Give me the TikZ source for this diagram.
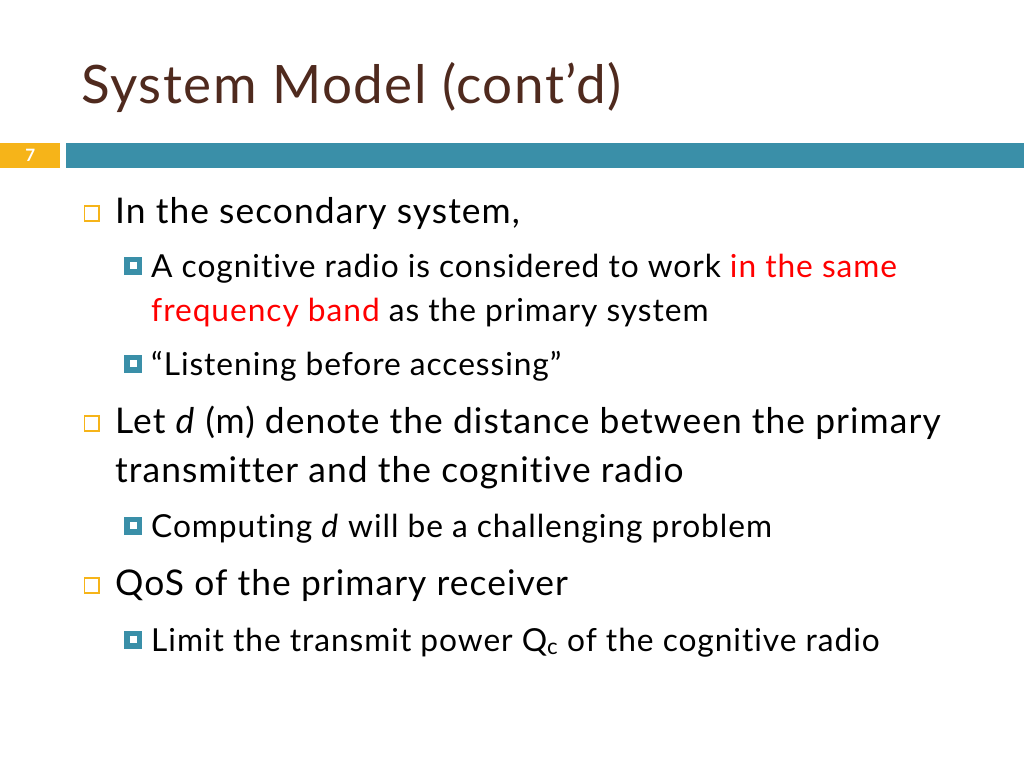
\documentclass[tikz,border=0pt]{standalone}
\usepackage{fontspec}
\setmainfont{Lato}[LetterSpace=3.0, Ligatures=NoCommon]
\usepackage{xcolor}
\usetikzlibrary{positioning}
\definecolor{titlebrown}{HTML}{4F2A1E}
\definecolor{barteal}{HTML}{3A8FA8}
\definecolor{barorange}{HTML}{F6B419}
\definecolor{hired}{HTML}{FF0000}

\begin{document}
\begin{tikzpicture}[x=1pt, y=-1pt]
        \tikzstyle{title} = [anchor=base west, inner sep=0, text=titlebrown, font=\fontsize{53}{60}\selectfont]
        \tikzstyle{lone} = [anchor=base west, inner sep=0, font=\fontsize{35.4}{40}\selectfont]
        \tikzstyle{ltwo} = [anchor=base west, inner sep=0, font=\fontsize{31.7}{36}\selectfont]
        \tikzstyle{obullet} = [rectangle, draw=barorange, line width=1.6pt, minimum size=14.5pt, inner sep=0, anchor=south west]
        \tikzstyle{tbullet} = [rectangle, draw=barteal, fill=white, line width=5.5pt, minimum size=12.5pt, inner sep=0, anchor=south west]
        \useasboundingbox (0,0) rectangle (1024,768);
        \fill[white] (0,0) rectangle (1024,768);

        % title and number bar
        \node [title] (ttl) at (81,103) {System Model (cont’d)};
        \node [rectangle, fill=barorange, minimum width=60pt, minimum height=25pt, inner sep=0, anchor=north west] (numbox) at (0,143) {};
        \node [text=white, font=\fontsize{17}{17}\selectfont\bfseries] (num) at (numbox.center) {7};
        \node [rectangle, fill=barteal, minimum width=958pt, minimum height=25pt, inner sep=0, anchor=north west] (bar) at (66,143) {};

        % first item
        \node [obullet] (b1) at (83.5,221.5) {};
        \node [lone] (t1) at (115,223) {In the secondary system,};
        \node [tbullet] (b2) at (124,274.5) {};
        \node [ltwo] (t2) at (151,277) {A cognitive radio is considered to work \textcolor{hired}{in the same}};
        \node [ltwo] (t2b) at (151,321) {\textcolor{hired}{frequency band} as the primary system};
        \node [tbullet] (b3) at (124,372.5) {};
        \node [ltwo] (t3) at (151,375) {“Listening before accessing”};

        % second item
        \node [obullet] (b4) at (83.5,431.5) {};
        \node [lone] (t4) at (115,433) {Let \textit{d} (m) denote the distance between the primary};
        \node [lone] (t4b) at (115,482) {transmitter and the cognitive radio};
        \node [tbullet] (b5) at (124,534.5) {};
        \node [ltwo] (t5) at (151,537) {Computing \textit{d} will be a challenging problem};

        % third item
        \node [obullet] (b6) at (83.5,593.5) {};
        \node [lone] (t6) at (115,595) {QoS of the primary receiver};
        \node [tbullet] (b7) at (124,648.5) {};
        \node [ltwo] (t7) at (151,651) {Limit the transmit power Q\textsubscript{c} of the cognitive radio};
    \end{tikzpicture}
\end{document}
